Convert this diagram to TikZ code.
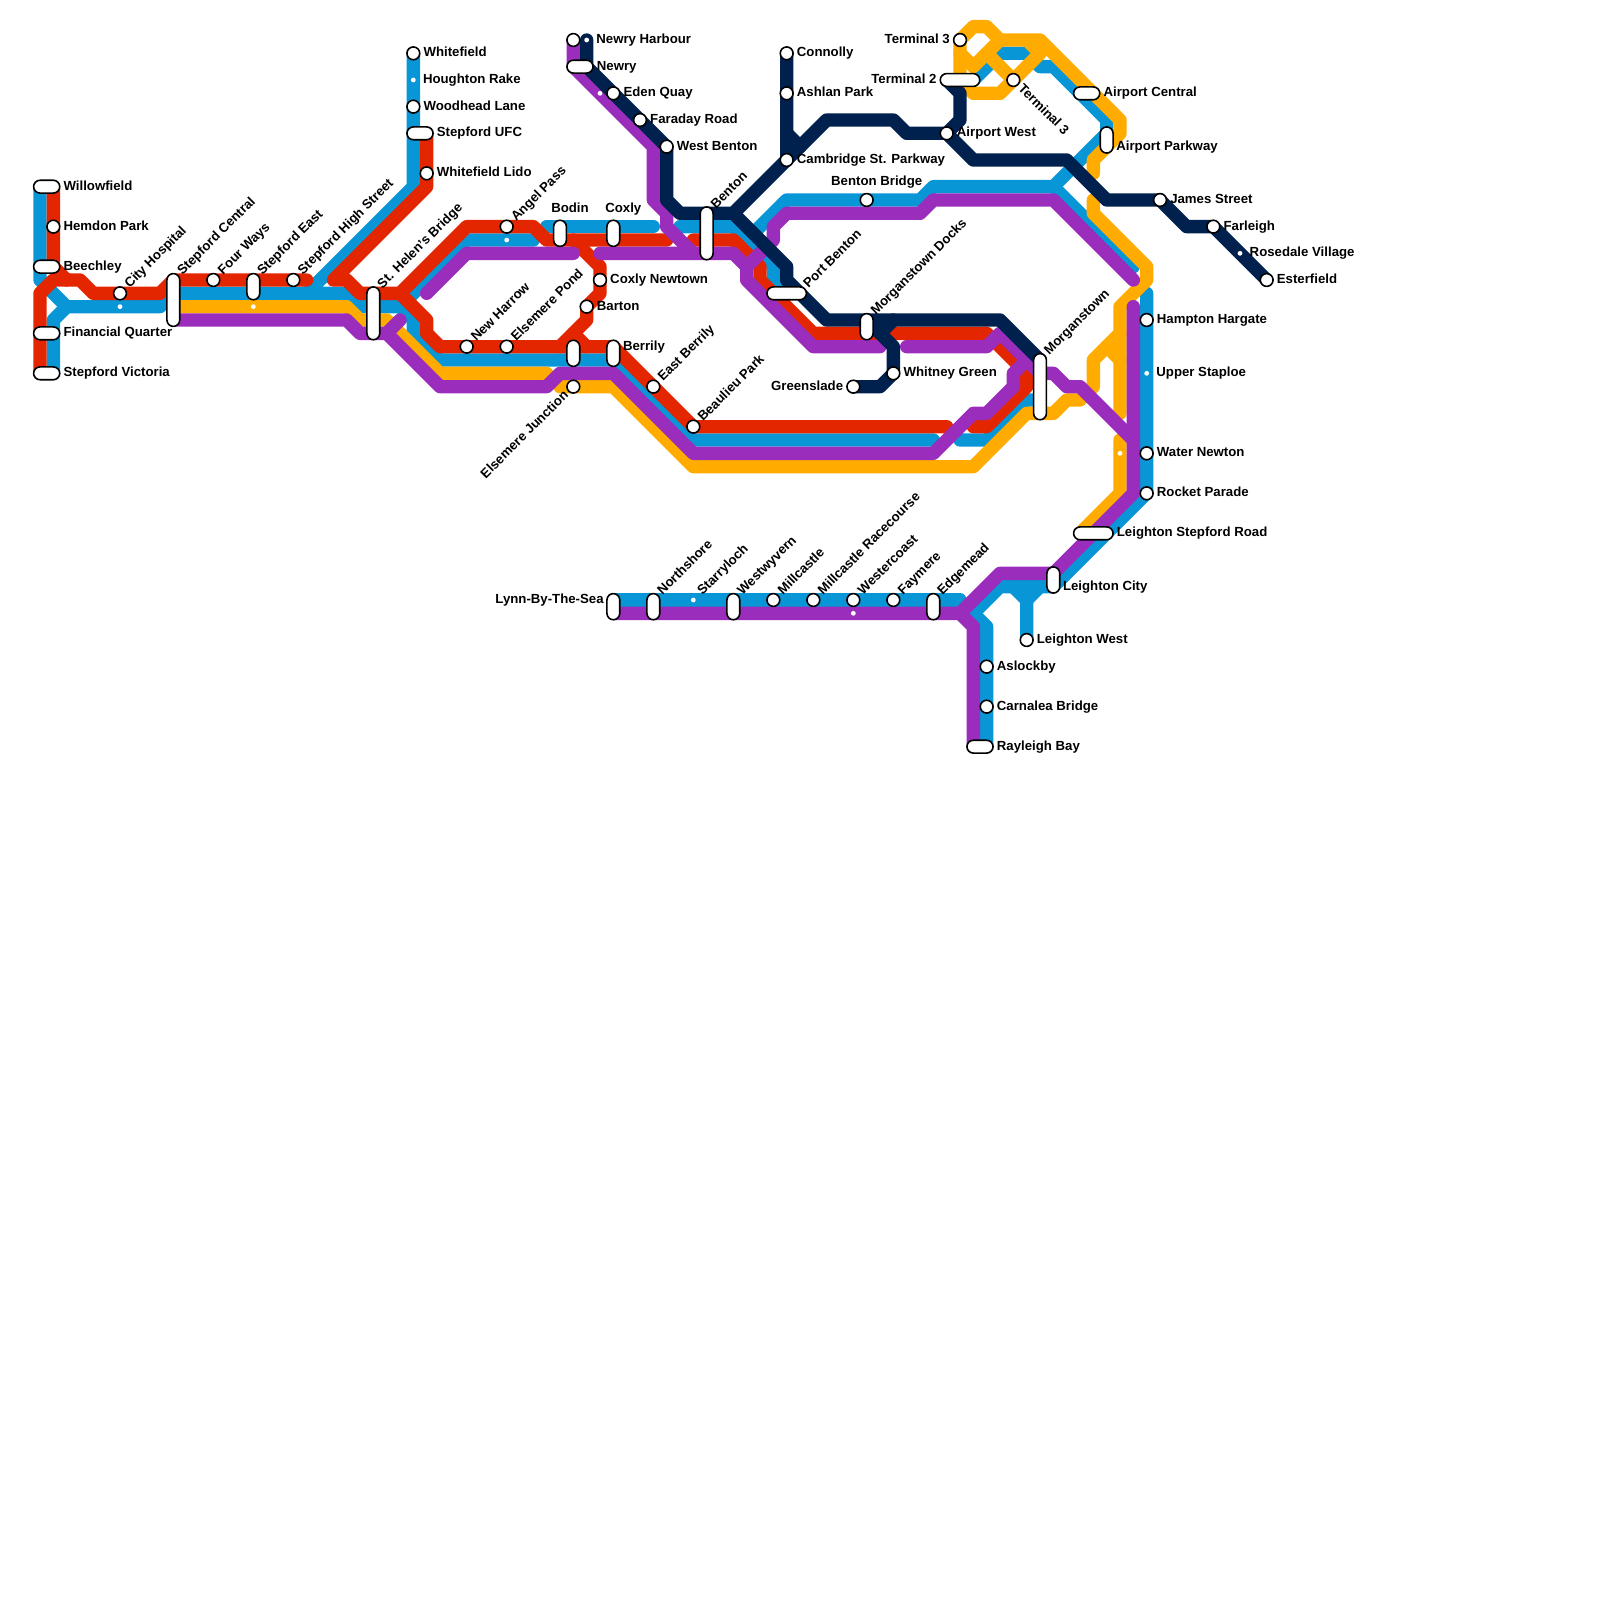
\documentclass[tikz,border=0pt]{standalone}
\usepackage{fontspec}
\setmainfont{Liberation Sans}
\usetikzlibrary{backgrounds}
\definecolor{lineblue}{HTML}{0896D7}
\definecolor{linered}{HTML}{E32600}
\definecolor{lineorange}{HTML}{FFAB00}
\definecolor{linepurple}{HTML}{9A2DBB}
\definecolor{linenavy}{HTML}{00214D}

\begin{document}
\begin{tikzpicture}[
  x=2.5mm,y=-2.5mm,
  track/.style={line width=2.5mm,line cap=round,line join=round},
  lblue/.style={track,lineblue},
  lred/.style={track,linered},
  lorange/.style={track,lineorange},
  lpurple/.style={track,linepurple},
  lnavy/.style={track,linenavy},
  stn/.style={circle,draw,line width=.85pt,fill=white,inner sep=0pt,minimum size=2.4mm},
  halt/.style={circle,fill=white,inner sep=0pt,minimum size=.9mm},
  pill/.style={draw,line width=.85pt,fill=white,rounded corners=1.2mm,inner sep=0pt},
  pillh/.style={pill,minimum width=#1*2.5mm-.1mm,minimum height=2.4mm},
  pillv/.style={pill,minimum height=#1*2.5mm-.1mm,minimum width=2.4mm},
  txt/.style={font=\bfseries\fontsize{7.05}{8.5}\selectfont,text height=3.8pt,text depth=0pt,inner sep=.5mm},
  txte/.style={txt,anchor=west},
  txtw/.style={txt,anchor=east},
  txtn/.style={txt,anchor=center},
  txtne/.style={txt,anchor=west,rotate=45},
  lbe/.style={label={[txte]0:#1}},
  lbw/.style={label={[txtw]180:#1}},
  lbne/.style={label={[txtne]45:#1}}
]
\useasboundingbox (0,0) rectangle (120,120);

% west side
\node[pillh=2] (willowfield) at (3.5,14) {};
\node[stn,lbe=Hemdon Park] (hemdonpark) at (4,17) {};
\node[pillh=2] (beechley) at (3.5,20) {};
\node[stn,lbne=City Hospital] (cityhospital) at (9,22) {};
\node[halt] (cityhospitalb) at (9,23) {};
\node[pillh=2] (financialquarter) at (3.5,25) {};
\node[pillh=2] (stepfordvictoria) at (3.5,28) {};
\node[pillv=4] (stepfordcentral) at (13,22.5) {};
\node[stn,lbne=Four Ways] (fourways) at (16,21) {};
\node[pillv=2] (stepfordeast) at (19,21.5) {};
\node[halt] (stepfordeastb) at (19,23) {};
\node[stn,lbne=Stepford High Street] (stepfordhigh) at (22,21) {};
\node[pillv=4] (sthelens) at (28,23.5) {};
\node[txte] at (willowfield.east) {Willowfield};
\node[txte] at (beechley.east) {Beechley};
\node[txte] at (financialquarter.east) {Financial Quarter};
\node[txte] at (stepfordvictoria.east) {Stepford Victoria};
\node[txtne] at (13.35,20.65) {Stepford Central};
\node[txtne] at (19.35,20.65) {Stepford East};
\node[txtne] at (28.35,21.65) {St. Helen's Bridge};

% whitefield branch
\node[stn,lbe=Whitefield] (whitefield) at (31,4) {};
\node[halt] (houghtonrake) at (31,6) {};
\node[stn,lbe=Woodhead Lane] (woodheadlane) at (31,8) {};
\node[pillh=2] (stepfordufc) at (31.5,10) {};
\node[stn,lbe=Whitefield Lido] (whitefieldlido) at (32,13) {};
\node[txte] at (31.5,6) {Houghton Rake};
\node[txte] at (stepfordufc.east) {Stepford UFC};

% middle loop
\node[stn,lbne=Angel Pass] (angelpass) at (38,17) {};
\node[halt] (angelpassb) at (38,18) {};
\node[pillv=2] (bodin) at (42,17.5) {};
\node[pillv=2] (coxly) at (46,17.5) {};
\node[stn,lbe=Coxly Newtown] (coxlynewtown) at (45,21) {};
\node[stn,lbe=Barton] (barton) at (44,23) {};
\node[stn,lbne=New Harrow] (newharrow) at (35,26) {};
\node[stn,lbne=Elsemere Pond] (elsemerepond) at (38,26) {};
\node[pillv=2] (elsemerestop) at (43,26.5) {};
\node[pillv=2] (berrily) at (46,26.5) {};
\node[stn] (elsemerejunction) at (43,29) {};
\node[stn,lbne=East Berrily] (eastberrily) at (49,29) {};
\node[stn,lbne=Beaulieu Park] (beaulieupark) at (52,32) {};
\node[txtn] at (42.75,15.65) {Bodin};
\node[txtn] at (46.75,15.65) {Coxly};
\node[txte] at (46.5,26) {Berrily};
\node[txt,anchor=east,rotate=45] at (42.65,29.35) {Elsemere Junction};

% newry branch
\node[stn] (newryharbour) at (43,3) {};
\node[halt] (newryharbourb) at (44,3) {};
\node[pillh=2] (newry) at (43.5,5) {};
\node[halt] (edenquayb) at (45,7) {};
\node[stn,lbe=Eden Quay] (edenquay) at (46,7) {};
\node[stn,lbe=Faraday Road] (faradayroad) at (48,9) {};
\node[stn,lbe=West Benton] (westbenton) at (50,11) {};
\node[pillv=4] (benton) at (53,17.5) {};
\node[txte] at (44.5,3) {Newry Harbour};
\node[txte] at (newry.east) {Newry};
\node[txtne] at (53.35,15.65) {Benton};

% connolly and docks
\node[stn,lbe=Connolly] (connolly) at (59,4) {};
\node[stn,lbe=Ashlan Park] (ashlanpark) at (59,7) {};
\node[stn,lbe=Cambridge St. Parkway] (cambridge) at (59,12) {};
\node[pillh=3] (portbenton) at (59,22) {};
\node[stn] (bentonbridge) at (65,15) {};
\node[pillv=2] (morganstowndocks) at (65,24.5) {};
\node[stn,lbe=Whitney Green] (whitneygreen) at (67,28) {};
\node[stn,lbw=Greenslade] (greenslade) at (64,29) {};
\node[txtne] at (60.3,21.6) {Port Benton};
\node[txtn] at (65.75,13.65) {Benton Bridge};
\node[txtne] at (65.35,23.65) {Morganstown Docks};

% airport
\node[stn,lbe=Airport West] (airportwest) at (71,10) {};
\node[stn,lbw=Terminal 3] (terminalthree) at (72,3) {};
\node[pillh=3] (terminaltwo) at (72,6) {};
\node[stn] (terminalthreeb) at (76,6) {};
\node[pillh=2] (airportcentral) at (81.5,7) {};
\node[pillv=2] (airportparkway) at (83,10.5) {};
\node[stn,lbe=James Street] (jamesstreet) at (87,15) {};
\node[stn,lbe=Farleigh] (farleigh) at (91,17) {};
\node[halt] (rosedalevillage) at (93,19) {};
\node[stn,lbe=Esterfield] (esterfield) at (95,21) {};
\node[txtw] at (terminaltwo.west) {Terminal 2};
\node[txt,anchor=west,rotate=-45] at (76.35,6.35) {Terminal 3};
\node[txte] at (airportcentral.east) {Airport Central};
\node[txte] at (83.5,11) {Airport Parkway};
\node[txte] at (93.5,19) {Rosedale Village};

% east side
\node[pillv=5] (morganstown) at (78,29) {};
\node[stn,lbe=Hampton Hargate] (hamptonhargate) at (86,24) {};
\node[halt] (upperstaploe) at (86,28) {};
\node[stn,lbe=Water Newton] (waternewton) at (86,34) {};
\node[halt] (waternewtonb) at (84,34) {};
\node[stn,lbe=Rocket Parade] (rocketparade) at (86,37) {};
\node[pillh=3] (leightonstepford) at (82,40) {};
\node[pillv=2] (leightoncity) at (79,43.5) {};
\node[stn,lbe=Leighton West] (leightonwest) at (77,48) {};
\node[stn,lbe=Aslockby] (aslockby) at (74,50) {};
\node[stn,lbe=Carnalea Bridge] (carnalea) at (74,53) {};
\node[pillh=2] (rayleighbay) at (73.5,56) {};
\node[txtne] at (78.35,26.65) {Morganstown};
\node[txte] at (86.5,28) {Upper Staploe};
\node[txte] at (leightonstepford.east) {Leighton Stepford Road};
\node[txte] at (79.5,44) {Leighton City};
\node[txte] at (rayleighbay.east) {Rayleigh Bay};

% lynn line
\node[pillv=2] (lynn) at (46,45.5) {};
\node[pillv=2] (northshore) at (49,45.5) {};
\node[halt] (starryloch) at (52,45) {};
\node[pillv=2] (westwyvern) at (55,45.5) {};
\node[stn,lbne=Millcastle] (millcastle) at (58,45) {};
\node[stn,lbne=Millcastle Racecourse] (racecourse) at (61,45) {};
\node[stn,lbne=Westercoast] (westercoast) at (64,45) {};
\node[halt] (westercoastb) at (64,46) {};
\node[stn,lbne=Faymere] (faymere) at (67,45) {};
\node[pillv=2] (edgemead) at (70,45.5) {};
\node[txtw] at (45.5,45) {Lynn-By-The-Sea};
\node[txtne] at (49.35,44.65) {Northshore};
\node[txtne] at (52.35,44.65) {Starryloch};
\node[txtne] at (55.35,44.65) {Westwyvern};
\node[txtne] at (70.35,44.65) {Edgemead};

\begin{pgfonlayer}{background}
% blue
\draw[lblue] (3,14)--(3,21)--(5,23)--(12,23)--(13,22)--(23,22)--(31,14)--(whitefield.center);
\draw[lblue] (4,28)--(4,24)--(5,23);
\draw[lblue] (23,22)--(26,22)--(27,23)--(30,23)--(31,24)--(31,25)--(33,27)--(46,27)--(52,33)--(70,33);
\draw[lblue] (30,23)--(31,22)--(35,18)--(40,18);
\draw[lblue] (41,17)--(49,17);
\draw[lblue] (51,17)--(55,17)--(58,20)--(58,21)--(59,22);
\draw[lblue] (56,18)--(59,15)--(69,15)--(70,14)--(79,14)--(83,10)--(83,9)--(79,5)--(78,5)--(77,4)--(75,4)--(73,6);
\draw[lblue] (79,14)--(85,20);
\draw[lblue] (72,33)--(74,33)--(77,30)--(78,30);
\draw[lblue] (86,22)--(rocketparade.center)--(79,44)--(75,44)--(73,46)--(74,47)--(74,56);
\draw[lblue] (lynn.center)--(46,45)--(72,45);
\draw[lblue] (leightonwest.center)--(77,45)--(76,44);
\draw[lblue] (77,45)--(78,44);
% red
\draw[lred] (3,28)--(3,22)--(4,21)--(6,21)--(7,22)--(12,22)--(13,21)--(23,21);
\draw[lred] (4,14)--(4,20)--(5,21);
\draw[lred] (32,10)--(32,14)--(25,21)--(26,21)--(27,22)--(30,22)--(35,17)--(40,17)--(41,18)--(50,18);
\draw[lred] (30,22)--(32,24)--(32,25)--(33,26)--(46,26)--(beaulieupark.center)--(71,32);
\draw[lred] (43,18)--(45,20)--(45,22)--(barton.center)--(44,24)--(42,26);
\draw[lred] (43,25)--(44,26);
\draw[lred] (52,18)--(55,18)--(57,20)--(57,21)--(61,25)--(74,25)--(77,28)--(77,29)--(74,32)--(73,32);
% orange
\draw[lorange] (13,23)--(26,23)--(27,24)--(29,24)--(33,28)--(41,28);
\draw[lorange] (42,29)--(46,29)--(52,35)--(73,35)--(77,31)--(79,31)--(80,30)--(81,30)--(82,29)--(82,27)--(84,25);
\draw[lorange] (83,26)--(84,27);
\draw[lorange] (82,15)--(82,16)--(86,20)--(86,21)--(84,23)--(84,31);
\draw[lorange] (84,33)--(84,37)--(81,40);
\draw[lorange] (82,13)--(82,12)--(84,10)--(84,9)--(78,3)--(75,3)--(74,2)--(73,2)--(terminalthree.center)--(72,6)--(73,7)--(75,7)--(78,4)--(77,3);
\draw[lorange] (72,4)--(73,5)--(75,3);
\draw[lorange] (74,4)--(terminalthreeb.center);
% purple
\draw[lpurple] (13,24)--(26,24)--(27,25)--(29,25)--(30,24);
\draw[lpurple] (29,25)--(33,29)--(41,29)--(42,28)--(46,28)--(52,34)--(70,34)--(73,31)--(74,31)--(76,29)--(76,28)--(77,27)--(78,27);
\draw[lpurple] (32,22)--(35,19)--(43,19);
\draw[lpurple] (45,19)--(55,19)--(56,20)--(56,21)--(61,26)--(66,26);
\draw[lpurple] (newryharbour.center)--(43,5)--(49,11)--(49,15)--(50,16)--(50,17)--(52,19);
\draw[lpurple] (56,20)--(58,18)--(58,17)--(59,16)--(69,16)--(70,15)--(79,15)--(85,21);
\draw[lpurple] (68,26)--(74,26)--(75,25)--(78,28)--(79,28)--(80,29)--(81,29)--(85,33);
\draw[lpurple] (85,23)--(85,37)--(79,43)--(75,43)--(72,46)--(46,46);
\draw[lpurple] (72,46)--(73,47)--(73,56);
% navy
\draw[lnavy] (newryharbourb.center)--(44,5)--(westbenton.center)--(50,15)--(51,16)--(55,16)--(cambridge.center)--(connolly.center);
\draw[lnavy] (59,10)--(60,11);
\draw[lnavy] (cambridge.center)--(62,9)--(67,9)--(68,10)--(airportwest.center)--(72,9)--(72,7)--(71,6);
\draw[lnavy] (airportwest.center)--(73,12)--(80,12)--(83,15)--(jamesstreet.center)--(89,17)--(farleigh.center)--(esterfield.center);
\draw[lnavy] (55,16)--(59,20)--(59,21)--(62,24)--(75,24)--(78,27);
\draw[lnavy] (65,24)--(67,26)--(whitneygreen.center)--(66,29)--(greenslade.center);
\draw[lnavy] (66,25)--(67,24);
\end{pgfonlayer}
\end{tikzpicture}
\end{document}
